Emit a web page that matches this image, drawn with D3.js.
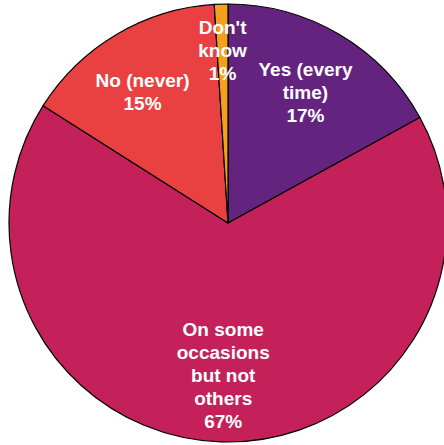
<!DOCTYPE html>
<html><head><meta charset="utf-8">
<script src="https://cdn.jsdelivr.net/npm/d3@7"></script>
<style>html,body{margin:0;padding:0;background:#fff;overflow:hidden}</style>
</head><body>
<svg id="chart" width="444" height="445"></svg>
<script>
const categories = ["Yes (every time)", "On some occasions but not others", "No (never)", "Don't know"];
const labelLines = [["Yes (every", "time)"], ["On some", "occasions", "but not", "others"], ["No (never)"], ["Don't", "know"]];
const values = [17, 67, 15, 1];
const colors = ["#652380", "#c4215a", "#e94142", "#f5a01c"];

const svg = d3.select("#chart");
const cx = 228, cy = 223, r = 219;
const g = svg.append("g").attr("transform", `translate(${cx},${cy})`);

const pie = d3.pie().sort(null).value(d => d.v);
const data = values.map((v, i) => ({v, i}));
const arcs = pie(data);
const arc = d3.arc().innerRadius(0).outerRadius(r);

g.selectAll("path").data(arcs).join("path")
  .attr("d", arc)
  .attr("fill", d => colors[d.data.i])
  .attr("stroke", "#000")
  .attr("stroke-width", 1.2)
  .attr("stroke-linejoin", "round");

const lineH = 23;
arcs.forEach(a => {
  const i = a.data.i;
  const lr = i === 3 ? r * 0.79 : r * 0.695;
  let [x, y] = d3.arc().innerRadius(lr).outerRadius(lr).centroid(a);
  if (i === 2) x -= 8;
  const lines = labelLines[i].concat([values[i] + "%"]);
  const t = g.append("text")
    .attr("text-anchor", "middle")
    .attr("fill", "#fff")
    .attr("font-family", "'Liberation Sans', Arial, sans-serif")
    .attr("font-weight", "bold")
    .attr("font-size", 19);
  const y0 = y - (lines.length - 1) * lineH / 2 + 6.8;
  lines.forEach((s, k) => {
    t.append("tspan").attr("x", x).attr("y", y0 + k * lineH).text(s);
  });
});
</script>
</body></html>
